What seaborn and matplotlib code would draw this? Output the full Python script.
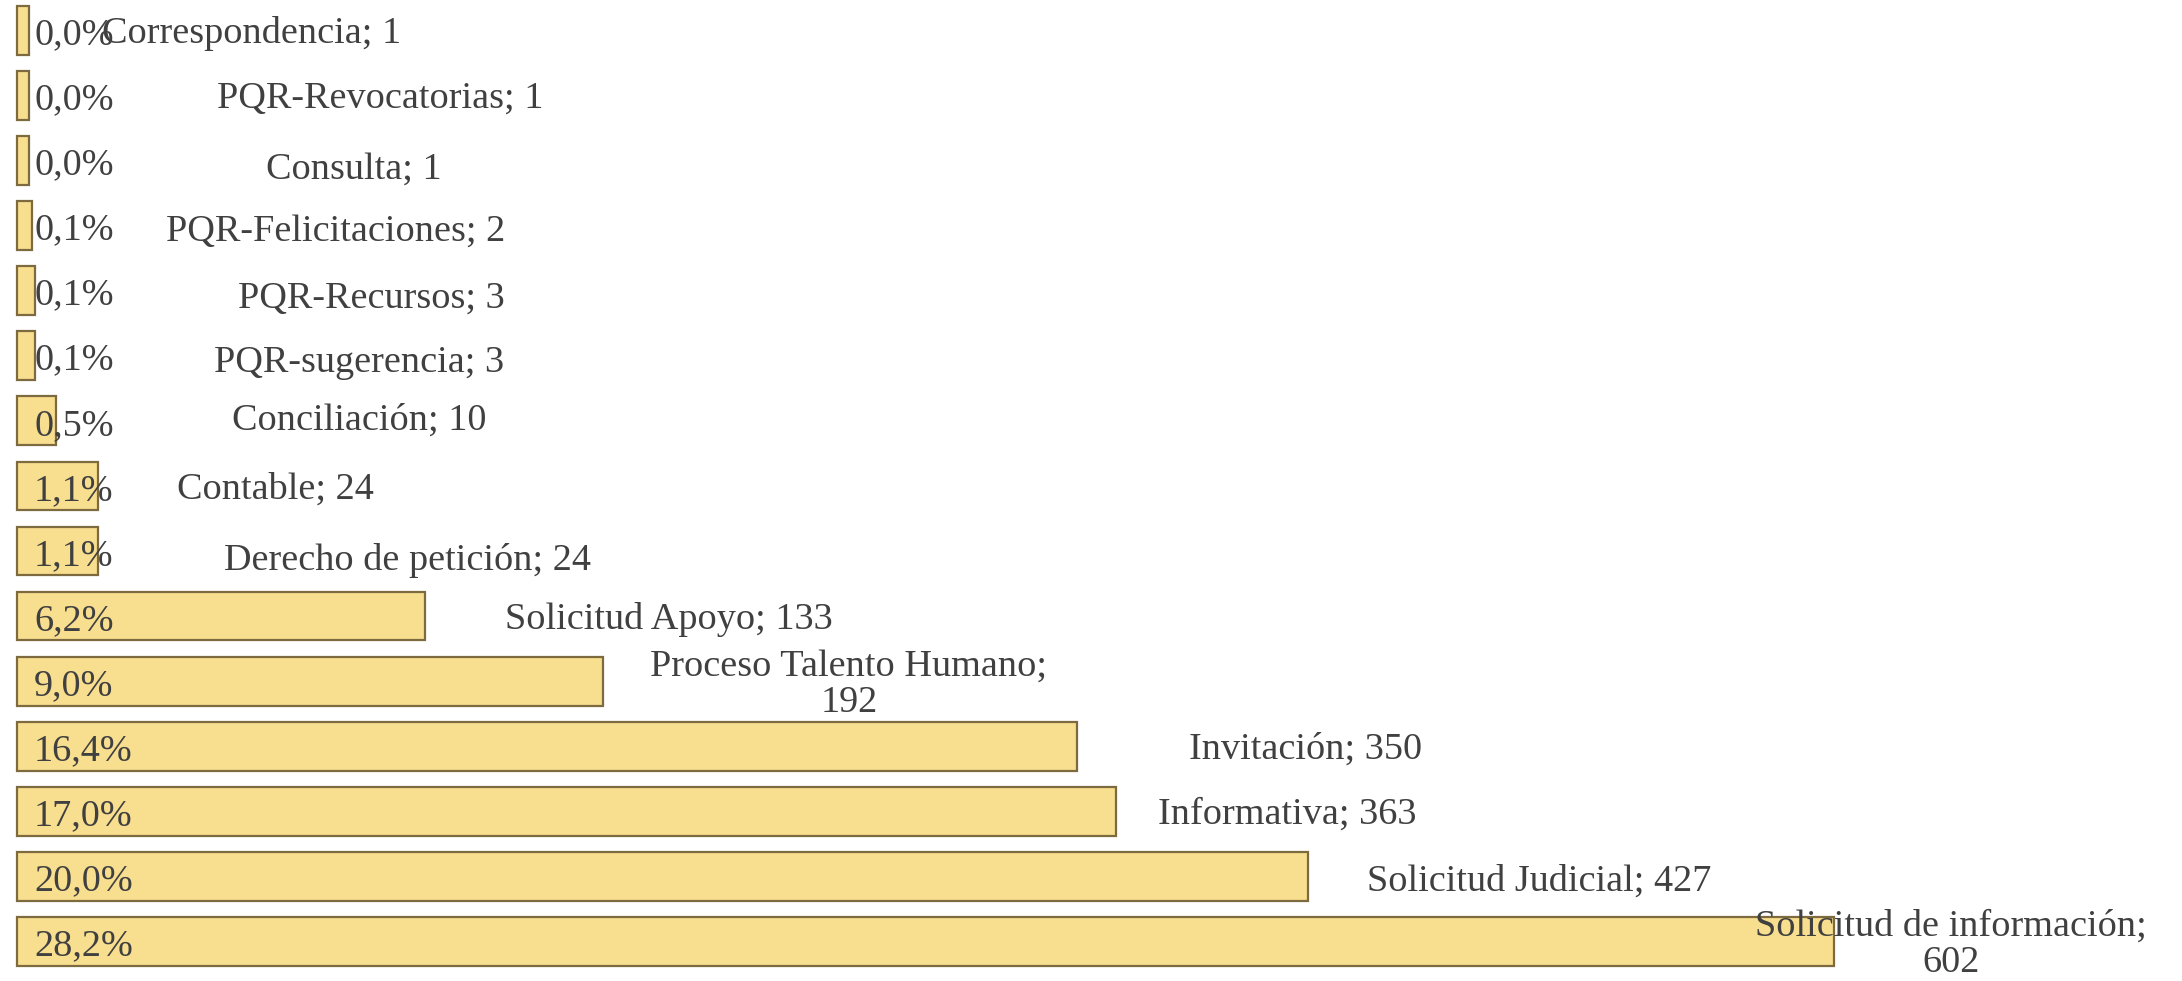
import matplotlib
matplotlib.use("Agg")
import matplotlib.pyplot as plt
import seaborn as sns
import pandas as pd
import numpy as np

categories = [
    "Correspondencia", "PQR-Revocatorias", "Consulta", "PQR-Felicitaciones",
    "PQR-Recursos", "PQR-sugerencia", "Conciliación", "Contable",
    "Derecho de petición", "Solicitud Apoyo", "Proceso Talento Humano",
    "Invitación", "Informativa", "Solicitud Judicial", "Solicitud de información",
]
values = [1, 1, 1, 2, 3, 3, 10, 24, 24, 133, 192, 350, 363, 427, 602]

# label layout (data-x of label centre, y offset in row units, line break)
label_x = [75, 118, 109, 103, 115, 111, 111, 83, 127, 214, 274, 426, 420, 504, 641]
label_dy = [0, 0, 0.09, 0.03, 0.06, 0.05, -0.06, 0, 0.1, 0, 0, 0, 0, 0.03, 0]
label_wrap = [False] * 10 + [True, False, False, False, True]

sns.set_theme(style="white")
plt.rcParams["font.family"] = ["Liberation Serif", "DejaVu Serif"]

df = pd.DataFrame({"cat": categories, "val": values})
total = sum(values)

fig = plt.figure(figsize=(21.82, 9.81), dpi=100)
ax = fig.add_axes([0, 0, 1, 1])
sns.barplot(data=df, y="cat", x="val", orient="h", ax=ax, width=0.75,
            color="#F8DE8F", edgecolor="#7d6b3f", linewidth=1.6, saturation=1)

# bevel effect in the original extends each bar slightly to the left of zero
bevel = 3.0
for p in ax.patches:
    p.set_x(p.get_x() - bevel)
    p.set_width(p.get_width() + bevel)

ax.set_xlim(-8.66, 717.9)
ax.set_ylim(14.61, -0.47)
ax.axis("off")

txt_color = "#404040"
fs = 27.5
shift = 0.05
for i, (c, v) in enumerate(zip(categories, values)):
    pct = f"{v / total * 100:.1f}%".replace(".", ",")
    ax.text(2.7, i + shift + 0.02, pct, ha="left", va="center", fontsize=fs, color=txt_color)
    if label_wrap[i]:
        lab = f"{c};\n{v}"
    else:
        lab = f"{c}; {v}"
    ax.text(label_x[i], i + label_dy[i] + shift, lab, ha="center", va="center",
            fontsize=fs, color=txt_color, linespacing=1.05, multialignment="center")

fig.savefig("out.png", dpi=100, facecolor="white")
